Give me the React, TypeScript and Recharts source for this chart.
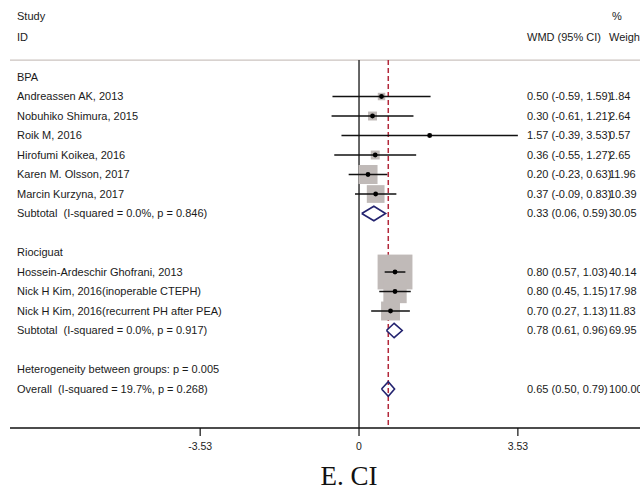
import {
  ComposedChart,
  Scatter,
  XAxis,
  YAxis,
  ReferenceLine,
} from "recharts";

// study rows (WMD with 95% CI, % weight)
const BPA_STUDIES = [
  "Andreassen AK, 2013",
  "Nobuhiko Shimura, 2015",
  "Roik M, 2016",
  "Hirofumi Koikea, 2016",
  "Karen M. Olsson, 2017",
  "Marcin Kurzyna, 2017",
];
const BPA_EST = [0.5, 0.3, 1.57, 0.36, 0.2, 0.37];
const BPA_LO = [-0.59, -0.61, -0.39, -0.55, -0.23, -0.09];
const BPA_HI = [1.59, 1.21, 3.53, 1.27, 0.63, 0.83];
const BPA_WT = [1.84, 2.64, 0.57, 2.65, 11.96, 10.39];

const RIO_STUDIES = [
  "Hossein-Ardeschir Ghofrani, 2013",
  "Nick H Kim, 2016(inoperable CTEPH)",
  "Nick H Kim, 2016(recurrent PH after PEA)",
];
const RIO_EST = [0.8, 0.8, 0.7];
const RIO_LO = [0.57, 0.45, 0.27];
const RIO_HI = [1.03, 1.15, 1.13];
const RIO_WT = [40.14, 17.98, 11.83];

const SUMMARY_LABELS = [
  "Subtotal  (I-squared = 0.0%, p = 0.846)",
  "Subtotal  (I-squared = 0.0%, p = 0.917)",
  "Overall  (I-squared = 19.7%, p = 0.268)",
];
const SUMMARY_EST = [0.33, 0.78, 0.65];
const SUMMARY_LO = [0.06, 0.61, 0.5];
const SUMMARY_HI = [0.59, 0.96, 0.79];
const SUMMARY_WT = [30.05, 69.95, 100.0];

const GROUP_LABELS = ["BPA", "Riociguat"];
const HETEROGENEITY = "Heterogeneity between groups: p = 0.005";
const OVERALL_EST = 0.65;
const X_TICKS = [-3.53, 0, 3.53];

const X_DOMAIN = [-7.756, 6.244];
const Y_DOMAIN = [-3.95, 18];
const HEADER_Y = -0.87;
const DIAMOND_H = 0.37;

type Row = { pos: number; label: string; ci?: string; wt?: string };
type Study = { x: number; y: number; w: number; lo: number; hi: number };

const fmt = (e: number, l: number, h: number) =>
  `${e.toFixed(2)} (${l.toFixed(2)}, ${h.toFixed(2)})`;

const rows: Row[] = [
  { pos: -3.13, label: "Study", wt: "%" },
  { pos: -2.05, label: "ID", ci: "WMD (95% CI)", wt: "Weight" },
  { pos: 0, label: GROUP_LABELS[0] },
];
const studies: Study[] = [];

BPA_STUDIES.forEach((s, i) => {
  const pos = 1 + i;
  rows.push({ pos, label: s, ci: fmt(BPA_EST[i], BPA_LO[i], BPA_HI[i]), wt: BPA_WT[i].toFixed(2) });
  studies.push({ x: BPA_EST[i], y: pos, w: BPA_WT[i], lo: BPA_LO[i], hi: BPA_HI[i] });
});
rows.push({ pos: 9, label: GROUP_LABELS[1] });
RIO_STUDIES.forEach((s, i) => {
  const pos = 10 + i;
  rows.push({ pos, label: s, ci: fmt(RIO_EST[i], RIO_LO[i], RIO_HI[i]), wt: RIO_WT[i].toFixed(2) });
  studies.push({ x: RIO_EST[i], y: pos, w: RIO_WT[i], lo: RIO_LO[i], hi: RIO_HI[i] });
});
rows.push({ pos: 15, label: HETEROGENEITY });

const SUMMARY_POS = [7, 13, 16];
const diamonds = SUMMARY_LABELS.map((s, i) => {
  const y = SUMMARY_POS[i];
  rows.push({ pos: y, label: s, ci: fmt(SUMMARY_EST[i], SUMMARY_LO[i], SUMMARY_HI[i]), wt: SUMMARY_WT[i].toFixed(2) });
  return [
    { x: SUMMARY_LO[i], y },
    { x: SUMMARY_EST[i], y: y - DIAMOND_H },
    { x: SUMMARY_HI[i], y },
    { x: SUMMARY_EST[i], y: y + DIAMOND_H },
    { x: SUMMARY_LO[i], y },
  ];
});

// one two-point segment per confidence interval
const ciSegments = studies.map((s) => [
  { x: s.lo, y: s.y },
  { x: s.hi, y: s.y },
]);
const overallLine = [
  { x: OVERALL_EST, y: HEADER_Y },
  { x: OVERALL_EST, y: Y_DOMAIN[1] },
];

const rowMap = new Map(rows.map((r) => [r.pos, r]));
const TEXT = {
  fontFamily: "'Liberation Sans', Arial, sans-serif",
  fontSize: 11,
  fill: "#1a1a1a",
  style: { whiteSpace: "pre" as const },
};

// eslint-disable-next-line @typescript-eslint/no-explicit-any
function RowTick({ y, payload }: any) {
  const r = rowMap.get(payload.value);
  if (!r) return null;
  return (
    <g>
      <text x={17} y={y} dy="0.35em" {...TEXT}>{r.label}</text>
      {r.ci && <text x={527} y={y} dy="0.35em" {...TEXT}>{r.ci}</text>}
      {r.wt && (
        <text x={r.wt === "%" ? 612 : 609} y={y} dy="0.35em" {...TEXT}>{r.wt}</text>
      )}
    </g>
  );
}

// eslint-disable-next-line @typescript-eslint/no-explicit-any
function WeightBox({ cx, cy, payload }: any) {
  const s = 5.5 * Math.sqrt(payload.w);
  return <rect x={cx - s / 2} y={cy - s / 2} width={s} height={s} fill="#c0bab8" />;
}

// eslint-disable-next-line @typescript-eslint/no-explicit-any
function Dot({ cx, cy }: any) {
  return <circle cx={cx} cy={cy} r={2.4} fill="#000" />;
}

const NoShape = () => <g />;

export default function App() {
  return (
    <div style={{ position: "absolute", left: 0, top: 0, background: "#fff" }}>
      <ComposedChart width={640} height={491} margin={{ top: 0, right: 0, bottom: 0, left: 0 }}>
        <XAxis
          type="number"
          dataKey="x"
          domain={X_DOMAIN}
          allowDataOverflow
          ticks={X_TICKS}
          interval={0}
          height={63}
          stroke="#000"
          axisLine={{ stroke: "#111", strokeWidth: 1.5 }}
          tickLine={{ stroke: "#111", strokeWidth: 1.2 }}
          tickSize={8}
          tickMargin={7}
          tick={{ fontFamily: "'Liberation Sans', Arial, sans-serif", fontSize: 10.5, fill: "#222" }}
          label={{
            content: () => (
              <text
                x={349}
                y={485}
                textAnchor="middle"
                fontFamily="'Liberation Serif', 'Times New Roman', serif"
                fontSize={27}
                fill="#111"
              >
                E. CI
              </text>
            ),
          }}
        />
        <YAxis
          type="number"
          dataKey="y"
          domain={Y_DOMAIN}
          allowDataOverflow
          reversed
          width={10}
          ticks={rows.map((r) => r.pos)}
          interval={0}
          axisLine={false}
          tickLine={false}
          tick={<RowTick />}
        />
        <ReferenceLine y={HEADER_Y} stroke="#cbc3bf" strokeWidth={1.2} />
        <ReferenceLine
          segment={[{ x: 0, y: HEADER_Y }, { x: 0, y: Y_DOMAIN[1] }]}
          stroke="#333"
          strokeWidth={1.5}
        />
        <Scatter
          data={overallLine}
          shape={NoShape}
          line={{ stroke: "#b3283a", strokeWidth: 1.5, strokeDasharray: "5 3" }}
          lineType="joint"
          isAnimationActive={false}
        />
        <Scatter data={studies} shape={<WeightBox />} isAnimationActive={false} />
        {ciSegments.map((seg, i) => (
          <Scatter
            key={`ci-${i}`}
            data={seg}
            shape={NoShape}
            line={{ stroke: "#111", strokeWidth: 1.5 }}
            lineType="joint"
            isAnimationActive={false}
          />
        ))}
        <Scatter data={studies} shape={<Dot />} isAnimationActive={false} />
        {diamonds.map((d, i) => (
          <Scatter
            key={`dm-${i}`}
            data={d}
            shape={NoShape}
            line={{ stroke: "#23236f", strokeWidth: 1.6 }}
            lineType="joint"
            isAnimationActive={false}
          />
        ))}
      </ComposedChart>
    </div>
  );
}
